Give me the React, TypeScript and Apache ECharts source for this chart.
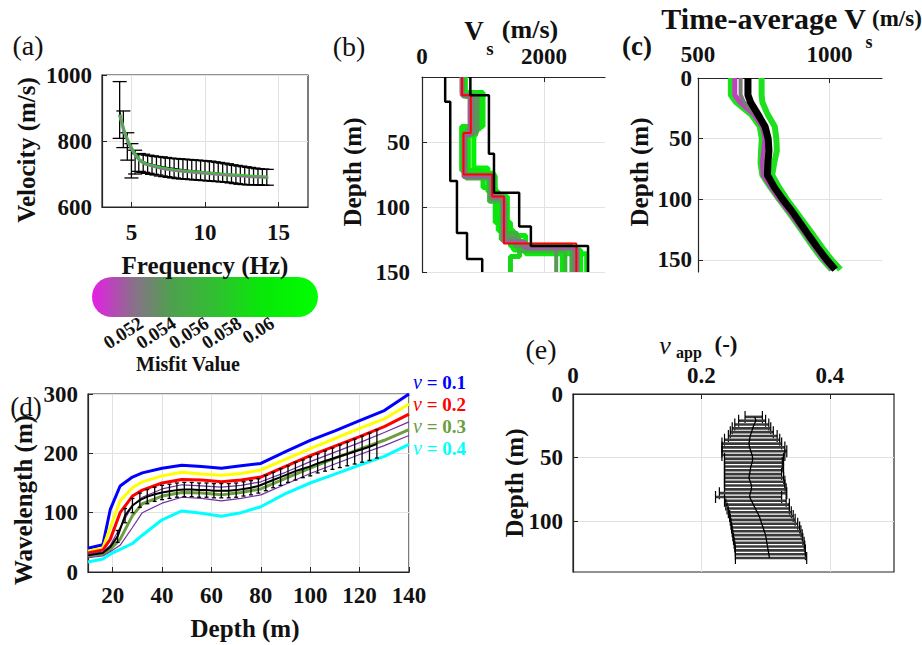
import React, { useEffect, useRef } from 'react';
import * as echarts from 'echarts';

const FONT = "Liberation Serif";
const AX = '#262626';
const GRIDC = '#e2e2e2';

// ---------- (a) dispersion curve ----------
const aFreq = [4.2, 4.45, 4.72, 5.0, 5.25, 5.5, 5.8, 6.1, 6.4, 6.7, 7.0, 7.3, 7.6, 7.9, 8.2, 8.5, 8.8, 9.1, 9.4, 9.7, 10.0, 10.3, 10.6, 10.9, 11.2, 11.5, 11.8, 12.1, 12.4, 12.7, 13.0, 13.3, 13.6, 13.9, 14.2];
const aMean = [893, 840, 805, 775, 757, 746, 738, 733, 729, 726, 723, 721, 719, 717, 715, 713, 712, 710, 709, 708, 706, 705, 704, 703, 701, 700, 699, 697, 696, 695, 694, 693, 692, 691, 690];
const aLow = [808, 780, 742, 688, 700, 708, 705, 702, 699, 697, 694, 692, 690, 688, 686, 685, 684, 683, 682, 681, 680, 679, 678, 677, 676, 675, 673, 671, 669, 668, 667, 667, 667, 666, 666];
const aHigh = [980, 891, 825, 792, 772, 762, 760, 757, 755, 753, 752, 750, 748, 747, 746, 745, 744, 743, 742, 741, 740, 739, 737, 735, 733, 731, 728, 726, 724, 722, 720, 718, 716, 715, 714];
const aFitFreq = [4.2, 4.5, 4.8, 5.2, 5.6, 6.0, 7, 8, 9, 10, 11, 12, 13, 14.3];
const aFit = [880, 830, 795, 762, 740, 730, 718, 711, 707, 703, 699, 696, 693, 690];
const aTicksX = [5, 10, 15];
const aTicksY = [600, 800, 1000];

// ---------- (b) Vs profiles ----------
const bTops = [
  [0, 13, 40, 70, 88, 118, 133],
  [0, 15, 45, 74, 92, 122, 136],
  [0, 12, 38, 72, 85, 112, 130],
  [0, 14, 42, 76, 95, 125, 138],
  [0, 15, 41, 78, 96, 123, 134],
  [0, 14, 44, 75, 93, 120, 129],
  [0, 14, 43, 76, 94, 124, 130],
  [0, 14, 44, 76, 93, 126, 131],
  [0, 14, 45, 77, 92, 127, 132],
];
const bVs = [
  [700, 950, 850, 1080, 1250, 1500, 2600],
  [710, 880, 760, 1180, 1400, 1700, 2700],
  [660, 1000, 650, 1000, 1200, 1450, 2300],
  [690, 820, 700, 1200, 1300, 1600, 1450],
  [670, 920, 720, 1100, 1380, 1580, 2350],
  [670, 860, 690, 1120, 1330, 1560, 2450],
  [660, 900, 700, 1140, 1360, 1520, 2200],
  [655, 830, 700, 1130, 1320, 1650, 2500],
  [650, 780, 680, 1160, 1340, 1700, 2550],
];
const bMisfit = [0.0605, 0.0598, 0.059, 0.058, 0.056, 0.0548, 0.0535, 0.0522, 0.0512];
const bBestTops = [0, 14, 43, 75, 92, 128];
const bBestVs = [656, 800, 680, 1150, 1343, 2530];
const bLowTops = [0, 19, 80, 120, 140];
const bLowVs = [380, 463, 573, 738, 987];
const bHighTops = [0, 14, 59, 89, 115, 130];
const bHighVs = [793, 1097, 1180, 1593, 1785, 2722];
const bTicksX = [0, 2000];
const bTicksY = [0, 50, 100, 150];
const bLabelsY = [50, 100, 150];

// ---------- (c) time-average Vs ----------
const cDepth = [0, 14, 20, 30, 40, 50, 60, 70, 80, 90, 100, 110, 120, 130, 140, 150, 158];
const cMean = [690, 690, 700, 728, 755, 767, 770, 766, 764, 790, 822, 858, 890, 922, 955, 990, 1022];
const cGreenHi = [742, 742, 745, 765, 792, 798, 800, 790, 782, 808, 838, 872, 906, 940, 973, 1008, 1042];
const cGreenLo = [625, 625, 645, 702, 735, 743, 740, 738, 745, 775, 808, 843, 876, 908, 940, 975, 1008];
const cMagenta = [640, 640, 660, 712, 745, 755, 750, 745, 748, 778, 810, 846, 880, 913, 946, 980, 1013];
const cGray = [662, 662, 675, 720, 752, 762, 762, 756, 756, 784, 816, 852, 885, 918, 950, 985, 1018];
const cTicksX = [500, 1000];
const cTicksY = [0, 50, 100, 150];

// ---------- colorbar ----------
const cbTicksA = [0.052, 0.056, 0.06];
const cbTicksB = [0.054, 0.058];
const cbStops = [
  [0, '#e61ee6'], [0.18, '#8c6e8c'], [0.35, '#4fa04f'], [0.55, '#30c030'], [0.75, '#08e808'], [1, '#00ff00'],
];
const cbMin = 0.049;
const cbMax = 0.0628;

// ---------- (d) wavelength vs depth ----------
const dDepth = [10, 16, 19, 23, 28, 32, 40, 48, 56, 64, 72, 80, 90, 100, 110, 120, 130, 140];
const dBlue = [40, 46, 105, 145, 160, 167, 175, 180, 178, 175, 179, 183, 203, 222, 238, 255, 272, 300];
const dYellow = [35, 40, 75, 120, 142, 152, 162, 168, 165, 163, 166, 172, 190, 208, 225, 242, 258, 283];
const dRed = [32, 37, 55, 100, 128, 138, 150, 156, 155, 152, 155, 160, 178, 196, 212, 228, 245, 266];
const dPurpleHi = [30, 34, 45, 75, 112, 126, 140, 147, 145, 143, 146, 152, 168, 186, 202, 218, 235, 253];
const dGreen = [27, 30, 38, 55, 95, 115, 128, 134, 133, 130, 134, 140, 158, 175, 192, 207, 222, 240];
const dPurpleLo = [24, 27, 34, 45, 75, 100, 116, 126, 124, 120, 124, 130, 148, 166, 182, 198, 213, 230];
const dCyan = [17, 22, 30, 38, 48, 62, 88, 103, 99, 94, 100, 110, 132, 150, 165, 180, 195, 215];
const dBlackHeadDepth = [10, 16, 19];
const dBlackHead = [28, 32, 42];
const dErrDepth = [22, 25, 28, 31, 34, 37, 40, 43, 46, 49, 52, 55, 58, 61, 64, 67, 70, 73, 76, 79, 82, 85, 88, 91, 94, 97, 100, 103, 106, 109, 112, 115, 118, 121, 124, 127];
const dErrMean = [60, 95, 112, 121, 127, 131, 134, 136, 138, 139, 139, 138, 138, 137, 137, 137, 138, 140, 142, 145, 150, 155, 160, 165, 170, 174, 178, 183, 187, 191, 195, 199, 203, 207, 211, 216];
const dErrHalf = [10, 12, 12, 12, 12, 12, 12, 12, 12, 12, 12, 12, 12, 12, 12, 12, 12, 12, 12, 12, 13, 13, 14, 14, 15, 15, 16, 16, 17, 18, 19, 20, 21, 22, 23, 24];
const dTicksX = [20, 40, 60, 80, 100, 120, 140];
const dTicksY = [0, 100, 200, 300];
const dLegend = ['0.1', '0.2', '0.3', '0.4'];
const dLegendColors = ['#0000ff', '#ff0000', '#6b9e3f', '#00ffff'];

// ---------- (e) apparent Poisson ratio ----------
const eDepth = [18, 21, 24, 27, 30, 33, 36, 39, 42, 45, 48, 51, 54, 57, 60, 63, 66, 69, 72, 75, 78, 81, 84, 87, 90, 93, 96, 99, 102, 105, 108, 111, 114, 117, 120, 123, 126, 129];
const eMean = [0.283, 0.285, 0.282, 0.280, 0.278, 0.276, 0.275, 0.274, 0.275, 0.277, 0.279, 0.280, 0.279, 0.277, 0.276, 0.275, 0.274, 0.276, 0.278, 0.278, 0.276, 0.275, 0.278, 0.281, 0.284, 0.287, 0.290, 0.292, 0.294, 0.296, 0.298, 0.300, 0.301, 0.302, 0.303, 0.304, 0.305, 0.306];
const eLow = [0.268, 0.258, 0.252, 0.248, 0.245, 0.242, 0.236, 0.232, 0.232, 0.232, 0.232, 0.236, 0.236, 0.236, 0.236, 0.236, 0.236, 0.236, 0.236, 0.236, 0.228, 0.222, 0.236, 0.238, 0.240, 0.242, 0.244, 0.245, 0.246, 0.247, 0.248, 0.249, 0.250, 0.251, 0.252, 0.253, 0.253, 0.253];
const eHigh = [0.295, 0.300, 0.305, 0.308, 0.312, 0.318, 0.322, 0.325, 0.330, 0.333, 0.330, 0.328, 0.326, 0.327, 0.328, 0.325, 0.328, 0.330, 0.330, 0.332, 0.333, 0.325, 0.332, 0.337, 0.337, 0.340, 0.343, 0.346, 0.350, 0.353, 0.355, 0.357, 0.358, 0.360, 0.361, 0.362, 0.362, 0.364];
const eTicksX = [0, 0.2, 0.4];
const eTicksY = [0, 50, 100];

// ---------- helpers ----------
function hexToRgb(h: string) {
  const n = parseInt(h.slice(1), 16);
  return [(n >> 16) & 255, (n >> 8) & 255, n & 255];
}
function misfitColor(m: number) {
  const t = Math.max(0, Math.min(1, (m - cbMin) / (cbMax - cbMin)));
  for (let i = 1; i < cbStops.length; i++) {
    const [p1, c1] = cbStops[i] as [number, string];
    const [p0, c0] = cbStops[i - 1] as [number, string];
    if (t <= p1) {
      const f = (t - p0) / (p1 - p0);
      const a = hexToRgb(c0), b = hexToRgb(c1);
      const r = a.map((v, k) => Math.round(v + (b[k] - v) * f));
      return `rgb(${r[0]},${r[1]},${r[2]})`;
    }
  }
  return '#00ff00';
}
function stepLine(tops: number[], vs: number[], bottom: number) {
  const pts: number[][] = [];
  for (let i = 0; i < vs.length; i++) {
    const d1 = i + 1 < tops.length ? tops[i + 1] : bottom;
    pts.push([vs[i], tops[i]], [vs[i], d1]);
  }
  return pts;
}
const fmt = (v: number) => String(v);
function lbl(values: number[], margin = 10, extra: any = {}) {
  return {
    customValues: values, color: '#111', fontFamily: FONT, fontWeight: 'bold', fontSize: 23,
    margin, hideOverlap: false, showMinLabel: true, showMaxLabel: true, formatter: fmt, ...extra,
  };
}
function axis(gridIndex: number, min: number, max: number, ticks: number[], labels: number[], extra: any = {}) {
  return {
    type: 'value',
    gridIndex,
    min,
    max,
    axisLine: { show: true, onZero: false, lineStyle: { color: AX, width: 1.2 } },
    axisTick: { show: true, inside: true, length: 5, customValues: ticks, lineStyle: { color: AX, width: 1 } },
    axisLabel: lbl(labels),
    splitLine: { show: true, lineStyle: { color: GRIDC, width: 1 } },
    ...extra,
  };
}
function cbAxis(values: number[]) {
  return {
    type: 'value', gridIndex: 5, min: cbMin, max: cbMax, position: 'bottom', offset: 0,
    axisLine: { show: false }, axisTick: { show: false }, splitLine: { show: false },
    axisLabel: lbl(values, 4, { rotate: 33, fontSize: 19 }),
  };
}
function vErr(cap: number, width: number) {
  return (params: any, api: any) => {
    const x = api.value(0), lo = api.value(1), hi = api.value(2);
    const p1 = api.coord([x, lo]);
    const p2 = api.coord([x, hi]);
    const style = { stroke: '#000', lineWidth: width };
    return {
      type: 'group',
      children: [
        { type: 'line', shape: { x1: p1[0], y1: p1[1], x2: p2[0], y2: p2[1] }, style },
        { type: 'line', shape: { x1: p1[0] - cap, y1: p1[1], x2: p1[0] + cap, y2: p1[1] }, style },
        { type: 'line', shape: { x1: p2[0] - cap, y1: p2[1], x2: p2[0] + cap, y2: p2[1] }, style },
      ],
    };
  };
}
function hErr(cap: number, width: number) {
  return (params: any, api: any) => {
    const d = api.value(0), lo = api.value(1), hi = api.value(2);
    const p1 = api.coord([lo, d]);
    const p2 = api.coord([hi, d]);
    const style = { stroke: '#000', lineWidth: width };
    return {
      type: 'group',
      children: [
        { type: 'line', shape: { x1: p1[0], y1: p1[1], x2: p2[0], y2: p2[1] }, style: { stroke: '#3a3a3a', lineWidth: 2.6 } },
        { type: 'line', shape: { x1: p1[0], y1: p1[1] - cap, x2: p1[0], y2: p1[1] + cap }, style },
        { type: 'line', shape: { x1: p2[0], y1: p2[1] - cap, x2: p2[0], y2: p2[1] + cap }, style },
      ],
    };
  };
}
function line(xi: number, data: number[][], color: string, width: number, z = 2) {
  return {
    type: 'line', xAxisIndex: xi, yAxisIndex: xi, data, symbol: 'none', silent: true, z,
    lineStyle: { color, width }, clip: false,
  };
}
function txt(text: string, x: number, y: number, size: number, opts: any = {}) {
  const { rotation = 0, weight = 'bold', style = 'normal', fill = '#111', align = 'center' } = opts;
  return {
    type: 'text', x, y, rotation, silent: true, z: 100,
    style: {
      text, fill, fontFamily: FONT, fontSize: size, fontWeight: weight, fontStyle: style,
      align, verticalAlign: 'middle',
    },
  };
}

function buildOption() {
  const series: any[] = [];
  // (a)
  series.push({
    type: 'custom', xAxisIndex: 0, yAxisIndex: 0, silent: true, z: 3,
    renderItem: vErr(7, 1.3),
    encode: { x: 0, y: [1, 2] },
    data: aFreq.map((f, i) => [f, aLow[i], aHigh[i]]),
  });
  series.push(line(0, aFreq.map((f, i) => [f, aMean[i]]), '#000', 1.2, 4));
  series.push(line(0, aFitFreq.map((f, i) => [f, aFit[i]]), '#3fbf3f', 3.5, 5));
  series.push(line(0, aFitFreq.map((f, i) => [f, aFit[i] - 2]), '#c050c0', 1, 6));

  // (b)
  bTops.forEach((tops, i) => {
    const col = misfitColor(bMisfit[i]);
    const w = bMisfit[i] > 0.057 ? 5 : 4;
    series.push(line(1, stepLine(tops, bVs[i], 150), col, w, 2 + i * 0.1));
  });
  series.push(line(1, stepLine(bBestTops, bBestVs, 150), '#ff0000', 2, 4));
  series.push(line(1, stepLine(bLowTops, bLowVs, 150), '#000', 2.5, 5));
  series.push(line(1, stepLine(bHighTops, bHighVs, 150), '#000', 2.5, 5));

  // (c)
  series.push(line(2, cDepth.map((d, i) => [cGreenHi[i], d]), '#1ee01e', 6, 2));
  series.push(line(2, cDepth.map((d, i) => [cGreenLo[i], d]), '#1ee01e', 6, 2));
  series.push(line(2, cDepth.map((d, i) => [cMagenta[i], d]), '#c040c0', 5, 3));
  series.push(line(2, cDepth.map((d, i) => [cGray[i], d]), '#7a7a7a', 4, 3));
  series.push(line(2, cDepth.map((d, i) => [cMean[i], d]), '#000', 7, 4));

  // (d)
  const dl = (arr: number[]) => dDepth.map((d, i) => [d, arr[i]]);
  series.push(line(3, dl(dBlue), '#0000ff', 3, 3));
  series.push(line(3, dl(dYellow), '#ffff00', 3, 3));
  series.push(line(3, dl(dRed), '#ff0000', 3, 3));
  series.push(line(3, dl(dPurpleHi), '#7030a0', 1.2, 3));
  series.push(line(3, dl(dGreen), '#6b9e3f', 3, 3));
  series.push(line(3, dl(dPurpleLo), '#7030a0', 1.2, 3));
  series.push(line(3, dl(dCyan), '#00ffff', 3, 3));
  series.push({
    type: 'custom', xAxisIndex: 3, yAxisIndex: 3, silent: true, z: 4,
    renderItem: vErr(2, 1.3),
    encode: { x: 0, y: [1, 2] },
    data: dErrDepth.map((d, i) => [d, dErrMean[i] - dErrHalf[i], dErrMean[i] + dErrHalf[i]]),
  });
  series.push(line(3, [
    ...dBlackHeadDepth.map((d, i) => [d, dBlackHead[i]]),
    ...dErrDepth.map((d, i) => [d, dErrMean[i]]),
  ], '#000', 2, 5));

  // (e)
  series.push({
    type: 'custom', xAxisIndex: 4, yAxisIndex: 4, silent: true, z: 3,
    renderItem: hErr(6, 1.2),
    encode: { x: [1, 2], y: 0 },
    data: eDepth.map((d, i) => [d, eLow[i], eHigh[i]]),
  });
  series.push(line(4, eDepth.map((d, i) => [eMean[i], d]), '#000', 1.3, 5));

  const xAxis = [
    axis(0, 3, 17, aTicksX, aTicksX, { axisLabel: lbl(aTicksX, 14) }),
    axis(1, 0, 3000, bTicksX, bTicksX, { position: 'top', axisLabel: lbl(bTicksX, 9) }),
    axis(2, 500, 1200, cTicksX, cTicksX, { position: 'top', axisLabel: lbl(cTicksX, 12) }),
    axis(3, 10, 140, dTicksX, dTicksX, { axisLabel: lbl(dTicksX, 12) }),
    axis(4, 0, 0.5, eTicksX, eTicksX, { position: 'top', axisLabel: lbl(eTicksX, 7) }),
    cbAxis(cbTicksA),
    cbAxis(cbTicksB),
  ];
  const yAxis = [
    axis(0, 600, 1000, aTicksY, aTicksY),
    axis(1, 0, 150, bTicksY, bLabelsY, { inverse: true, axisLabel: lbl(bLabelsY, 12) }),
    axis(2, 0, 160, cTicksY, cTicksY, { inverse: true, axisLabel: lbl(cTicksY, 6) }),
    axis(3, 0, 300, dTicksY, dTicksY),
    axis(4, 0, 140, eTicksY, eTicksY, { inverse: true }),
    { type: 'value', gridIndex: 5, show: false, min: 0, max: 1 },
  ];

  const gradStops = cbStops.map(([o, c]) => ({ offset: o as number, color: c as string }));
  const elements: any[] = [
    {
      type: 'rect', z: 1, silent: true,
      shape: { x: 92, y: 277, width: 226, height: 40, r: 20 },
      style: { fill: new echarts.graphic.LinearGradient(0, 0, 1, 0, gradStops) },
    },
    // (a)
    txt('(a)', 28, 45, 28, { weight: 'normal' }),
    txt('Velocity (m/s)', 26, 150, 25, { rotation: Math.PI / 2 }),
    txt('Frequency (Hz)', 205, 265, 25),
    txt('Misfit Value', 188, 364, 20),
    // (b)
    txt('(b)', 349, 46, 28, { weight: 'normal' }),
    txt('V', 474, 31, 27),
    txt('s', 490, 48, 19),
    txt('(m/s)', 530, 29, 26),
    txt('Depth (m)', 352, 172, 25, { rotation: Math.PI / 2 }),
    // (c)
    txt('(c)', 637, 46, 27),
    txt('Time-average V', 866, 18, 30, { align: 'right' }),
    txt('s', 869, 42, 18),
    txt('(m/s)', 872, 18, 23, { align: 'left' }),
    txt('Depth (m)', 639, 172, 25, { rotation: Math.PI / 2 }),
    // (d)
    txt('(d)', 26, 407, 27, { weight: 'normal' }),
    txt('Wavelength (m)', 23, 500, 25, { rotation: Math.PI / 2 }),
    txt('Depth (m)', 245, 628, 25),
    // (e)
    txt('(e)', 541, 349, 28, { weight: 'normal' }),
    txt('Depth (m)', 514, 483, 25, { rotation: Math.PI / 2 }),
    txt('ν', 665, 345, 26, { style: 'italic', weight: 'normal' }),
    txt('app', 689, 352, 16),
    txt('(-)', 726, 344, 23),
  ];
  dLegend.forEach((v, i) => {
    elements.push({
      type: 'text', x: 413, y: 382 + i * 22, silent: true, z: 100,
      style: {
        text: `{n|ν} = ${v}`, fill: dLegendColors[i], fontFamily: FONT, fontSize: 19,
        fontWeight: 'bold', align: 'left', verticalAlign: 'middle', lineHeight: 19,
        rich: { n: { fontStyle: 'italic', fontWeight: 'normal', fontSize: 20, lineHeight: 19, fontFamily: FONT, fill: dLegendColors[i] } },
      },
    });
  });

  return {
    animation: false,
    backgroundColor: '#ffffff',
    grid: [
      { left: 102, top: 75, width: 206, height: 132, show: true, borderColor: AX, borderWidth: 1.2 },
      { left: 422, top: 77, width: 183, height: 195 },
      { left: 698, top: 78, width: 184, height: 194 },
      { left: 88, top: 394, width: 321, height: 178, show: true, borderColor: AX, borderWidth: 1.2 },
      { left: 573, top: 394, width: 321, height: 178, show: true, borderColor: AX, borderWidth: 1.2 },
      { left: 92, top: 277, width: 226, height: 40 },
    ],
    xAxis,
    yAxis,
    series,
    graphic: { elements },
  };
}

export default function App() {
  const ref = useRef<HTMLDivElement>(null);
  useEffect(() => {
    if (!ref.current) return;
    const chart = echarts.init(ref.current, null, { renderer: 'svg' });
    chart.setOption(buildOption() as any);
    return () => chart.dispose();
  }, []);
  return (
    <div
      ref={ref}
      style={{ position: 'fixed', left: 0, top: 0, width: 922, height: 645, background: '#fff' }}
    />
  );
}
